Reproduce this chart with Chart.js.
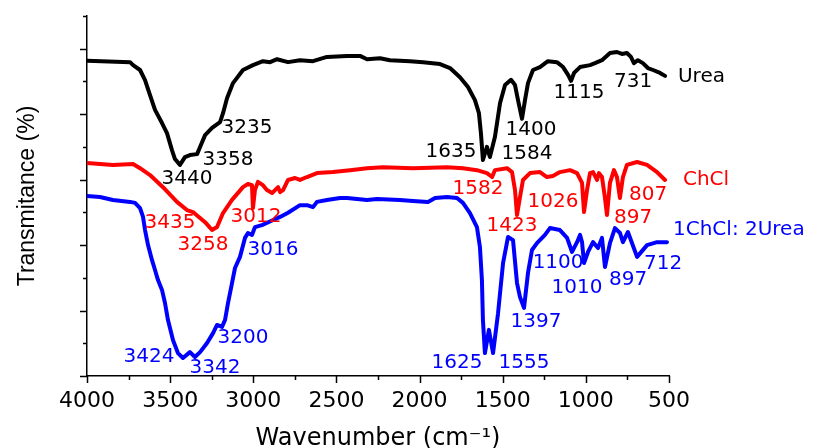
<!DOCTYPE html>
<html>
<head>
<meta charset="utf-8">
<script src="https://cdn.jsdelivr.net/npm/chart.js@4.4.1/dist/chart.umd.min.js"></script>
<style>
  html, body { margin: 0; padding: 0; background: #fff; }
  canvas { display: block; }
</style>
</head>
<body>
<canvas id="ftir" width="813" height="448"></canvas>
<script>
// spectra (wavenumber in cm-1, transmittance in arbitrary units)
const ureaWavenumber = [4000, 3741, 3723, 3681, 3651, 3621, 3591, 3549, 3519, 3489, 3471, 3441, 3411, 3381, 3338, 3320, 3290, 3248, 3200, 3182, 3158, 3122, 3062, 3002, 2942, 2899, 2857, 2791, 2719, 2641, 2557, 2436, 2358, 2316, 2238, 2178, 2058, 1979, 1877, 1817, 1757, 1709, 1667, 1643, 1631, 1619, 1595, 1577, 1547, 1516, 1486, 1450, 1426, 1408, 1384, 1366, 1348, 1318, 1276, 1228, 1174, 1137, 1107, 1089, 1071, 1035, 975, 945, 903, 855, 813, 783, 753, 729, 711, 687, 657, 627, 596, 554, 524];
const ureaTransmit = [96.3, 95.9, 95.0, 93.5, 90.4, 85.8, 81.3, 77.3, 74.2, 69.0, 66.3, 64.5, 66.9, 67.5, 67.8, 70.0, 73.6, 75.8, 77.6, 80.3, 84.9, 89.5, 93.5, 95.0, 96.2, 95.9, 96.8, 95.9, 96.5, 96.2, 97.5, 97.8, 97.8, 96.8, 97.1, 96.5, 96.2, 95.9, 95.3, 94.1, 91.3, 88.3, 84.3, 80.3, 74.2, 66.0, 70.0, 66.9, 73.0, 83.4, 88.9, 90.5, 88.9, 84.3, 78.6, 84.3, 89.5, 93.5, 94.4, 96.2, 95.9, 94.4, 92.0, 90.2, 92.6, 94.4, 95.0, 95.6, 96.5, 98.7, 99.0, 98.4, 98.7, 97.5, 95.6, 96.5, 95.6, 94.1, 93.5, 92.6, 91.7];

const chclWavenumber = [4000, 3922, 3844, 3723, 3681, 3621, 3543, 3459, 3399, 3363, 3290, 3248, 3218, 3182, 3128, 3062, 3032, 3008, 3002, 2990, 2972, 2942, 2918, 2887, 2869, 2851, 2839, 2821, 2791, 2749, 2719, 2677, 2617, 2521, 2418, 2316, 2220, 2040, 1835, 1739, 1655, 1595, 1564, 1547, 1474, 1444, 1426, 1414, 1396, 1378, 1336, 1276, 1234, 1198, 1156, 1095, 1053, 1023, 1011, 993, 975, 957, 933, 921, 903, 885, 873, 855, 831, 813, 795, 777, 753, 692, 632, 572, 524];
const chclTransmit = [65.1, 64.8, 64.5, 64.8, 63.5, 61.4, 57.7, 53.2, 50.7, 50.1, 47.0, 44.6, 45.5, 49.8, 53.8, 57.7, 58.7, 58.3, 51.3, 56.8, 59.3, 58.3, 56.8, 55.9, 56.8, 57.7, 56.2, 56.8, 59.9, 60.5, 59.9, 60.8, 62.0, 62.3, 62.9, 63.5, 63.8, 63.5, 63.8, 63.5, 62.9, 62.0, 60.8, 62.9, 63.5, 62.3, 56.8, 49.2, 54.7, 59.9, 62.0, 62.3, 60.8, 61.1, 62.3, 62.9, 62.0, 59.0, 50.1, 56.8, 62.0, 62.3, 59.9, 62.0, 60.8, 54.4, 49.2, 59.0, 62.9, 60.8, 54.4, 60.8, 64.5, 65.4, 64.5, 62.3, 59.9];

const desWavenumber = [4000, 3922, 3844, 3741, 3711, 3681, 3663, 3651, 3633, 3609, 3591, 3573, 3549, 3531, 3513, 3483, 3453, 3423, 3381, 3351, 3320, 3278, 3242, 3218, 3188, 3170, 3152, 3128, 3110, 3080, 3050, 3032, 3008, 2990, 2948, 2887, 2839, 2791, 2719, 2677, 2641, 2617, 2557, 2478, 2436, 2316, 2256, 2118, 2040, 1949, 1907, 1835, 1775, 1739, 1697, 1655, 1637, 1625, 1619, 1607, 1583, 1558, 1528, 1498, 1468, 1438, 1414, 1396, 1372, 1348, 1324, 1294, 1246, 1216, 1156, 1113, 1083, 1053, 1035, 1023, 1011, 987, 957, 927, 903, 885, 855, 825, 795, 777, 747, 692, 632, 572, 512];
const desTransmit = [55.0, 54.7, 53.8, 53.2, 52.9, 51.3, 48.6, 44.6, 40.0, 35.4, 32.4, 29.3, 26.3, 22.3, 17.1, 11.0, 7.0, 5.5, 7.3, 5.8, 7.3, 10.1, 13.1, 15.6, 15.0, 17.1, 22.3, 28.4, 33.0, 36.4, 42.2, 43.7, 43.1, 45.5, 46.1, 47.5, 48.6, 49.9, 52.2, 52.2, 51.6, 53.2, 53.8, 54.4, 54.4, 53.8, 54.1, 53.8, 53.5, 53.2, 54.4, 54.7, 54.4, 52.9, 49.8, 45.5, 39.4, 29.3, 17.1, 7.0, 14.1, 7.0, 19.2, 34.5, 42.5, 41.5, 28.4, 24.1, 20.8, 31.5, 38.5, 40.6, 43.1, 45.2, 44.6, 42.2, 37.9, 40.9, 43.1, 40.9, 34.5, 37.9, 40.9, 39.1, 42.2, 33.3, 40.6, 45.2, 43.7, 40.9, 44.0, 36.4, 40.0, 40.9, 40.9];

const seriesNames = ["Urea", "ChCl", "1ChCl: 2Urea"];
const seriesColors = ["#000000", "#ff0000", "#0000ff"];

const xTickValues = [4000, 3500, 3000, 2500, 2000, 1500, 1000, 500];
const xMinorValues = [3750, 3250, 2750, 2250, 1750, 1250, 750];
const yTickValues = [0, 10, 20, 30, 40, 50, 60, 70, 80, 90, 100, 110];

// peak labels: text, wavenumber / transmittance where the label sits
const ureaPeakText = ["3235", "3358", "3440", "1635", "1584", "1400", "1115", "731"];
const ureaPeakWn = [3038, 3152, 3399, 1811, 1354, 1330, 1041, 716];
const ureaPeakT = [75.8, 66.0, 60.2, 68.4, 67.8, 75.2, 86.5, 89.8];

const chclPeakText = ["3435", "3258", "3012", "1582", "1423", "1026", "897", "807"];
const chclPeakWn = [3501, 3302, 2984, 1649, 1444, 1198, 716, 626];
const chclPeakT = [46.7, 40.0, 48.6, 57.1, 45.8, 53.2, 48.3, 55.3];

const desPeakText = ["3424", "3342", "3200", "3016", "1625", "1555", "1397", "1100", "1010", "897", "712"];
const desPeakWn = [3627, 3230, 3062, 2881, 1775, 1372, 1300, 1167, 1053, 746, 536];
const desPeakT = [5.8, 2.4, 11.6, 38.5, 4.0, 4.0, 16.5, 34.5, 26.9, 29.3, 34.2];

// where the series names sit (left edge of the text)
const nameWn = [446, 416, 476];
const nameT = [91.3, 59.9, 44.6];

function toPoints(xs, ys) {
  return xs.map((x, i) => ({ x: x, y: ys[i] }));
}

const peakGroups = [
  { text: ureaPeakText, wn: ureaPeakWn, t: ureaPeakT },
  { text: chclPeakText, wn: chclPeakWn, t: chclPeakT },
  { text: desPeakText, wn: desPeakWn, t: desPeakT }
];

const LABEL_FONT = "20px 'DejaVu Sans'";

// outward tick marks, long on the labelled ones
const tickMarks = {
  id: "tickMarks",
  afterDraw(chart) {
    const { ctx, scales: { x, y } } = chart;
    ctx.save();
    ctx.strokeStyle = "#000";
    ctx.lineWidth = 1.5;
    ctx.beginPath();
    xTickValues.forEach((v) => {
      const px = Math.round(x.getPixelForValue(v)) + 0.5;
      ctx.moveTo(px, x.top);
      ctx.lineTo(px, x.top + 7);
    });
    xMinorValues.forEach((v) => {
      const px = Math.round(x.getPixelForValue(v)) + 0.5;
      ctx.moveTo(px, x.top);
      ctx.lineTo(px, x.top + 4);
    });
    yTickValues.forEach((v, i) => {
      const py = Math.round(y.getPixelForValue(v)) + 0.5;
      const len = i % 2 === 0 ? 7 : 4;
      ctx.moveTo(y.right, py);
      ctx.lineTo(y.right - len, py);
    });
    ctx.stroke();
    ctx.restore();
  }
};

// peak numbers and series names
const peakLabels = {
  id: "peakLabels",
  afterDatasetsDraw(chart) {
    const { ctx, scales: { x, y } } = chart;
    ctx.save();
    ctx.font = LABEL_FONT;
    ctx.textBaseline = "middle";
    peakGroups.forEach((g, k) => {
      ctx.fillStyle = seriesColors[k];
      ctx.textAlign = "center";
      g.text.forEach((txt, i) => {
        ctx.fillText(txt, x.getPixelForValue(g.wn[i]), y.getPixelForValue(g.t[i]));
      });
      ctx.textAlign = "left";
      ctx.fillText(seriesNames[k], x.getPixelForValue(nameWn[k]), y.getPixelForValue(nameT[k]));
    });
    ctx.restore();
  }
};

const datasets = [
  [ureaWavenumber, ureaTransmit],
  [chclWavenumber, chclTransmit],
  [desWavenumber, desTransmit]
].map((pair, k) => ({
  label: seriesNames[k],
  data: toPoints(pair[0], pair[1]),
  borderColor: seriesColors[k],
  backgroundColor: seriesColors[k],
  borderWidth: 4,
  borderJoinStyle: "round",
  borderCapStyle: "round",
  pointRadius: 0,
  tension: 0,
  fill: false
}));

new Chart(document.getElementById("ftir").getContext("2d"), {
  type: "line",
  data: { datasets },
  options: {
    responsive: false,
    animation: false,
    devicePixelRatio: 1,
    layout: { padding: { top: 16, right: 144, left: 0, bottom: 0 } },
    plugins: {
      legend: { display: false },
      tooltip: { enabled: false }
    },
    scales: {
      x: {
        type: "linear",
        reverse: true,
        min: 500,
        max: 4000,
        afterBuildTicks: (s) => { s.ticks = xTickValues.map((v) => ({ value: v })); },
        afterFit: (s) => { s.height = 72; },
        grid: { display: false },
        border: { display: true, color: "#000", width: 1.5 },
        ticks: {
          color: "#000",
          padding: 4,
          maxRotation: 0,
          autoSkip: false,
          callback: (v) => String(v),
          font: { family: "'DejaVu Sans'", size: 22 }
        },
        title: {
          display: true,
          text: "Wavenumber (cm⁻¹)",
          color: "#000",
          padding: { top: 0, bottom: -3 },
          font: { family: "'DejaVu Sans'", size: 24, lineHeight: 1 }
        }
      },
      y: {
        min: 0,
        max: 110,
        afterBuildTicks: (s) => { s.ticks = yTickValues.map((v) => ({ value: v })); },
        afterFit: (s) => { s.width = 87; },
        grid: { display: false },
        border: { display: true, color: "#000", width: 1.5 },
        ticks: { display: false },
        title: {
          display: true,
          text: "Transmitance (%)",
          color: "#000",
          padding: { top: 16, bottom: 0 },
          font: { family: "'Liberation Sans'", size: 23, lineHeight: 1 }
        }
      }
    }
  },
  plugins: [tickMarks, peakLabels]
});
</script>
</body>
</html>
